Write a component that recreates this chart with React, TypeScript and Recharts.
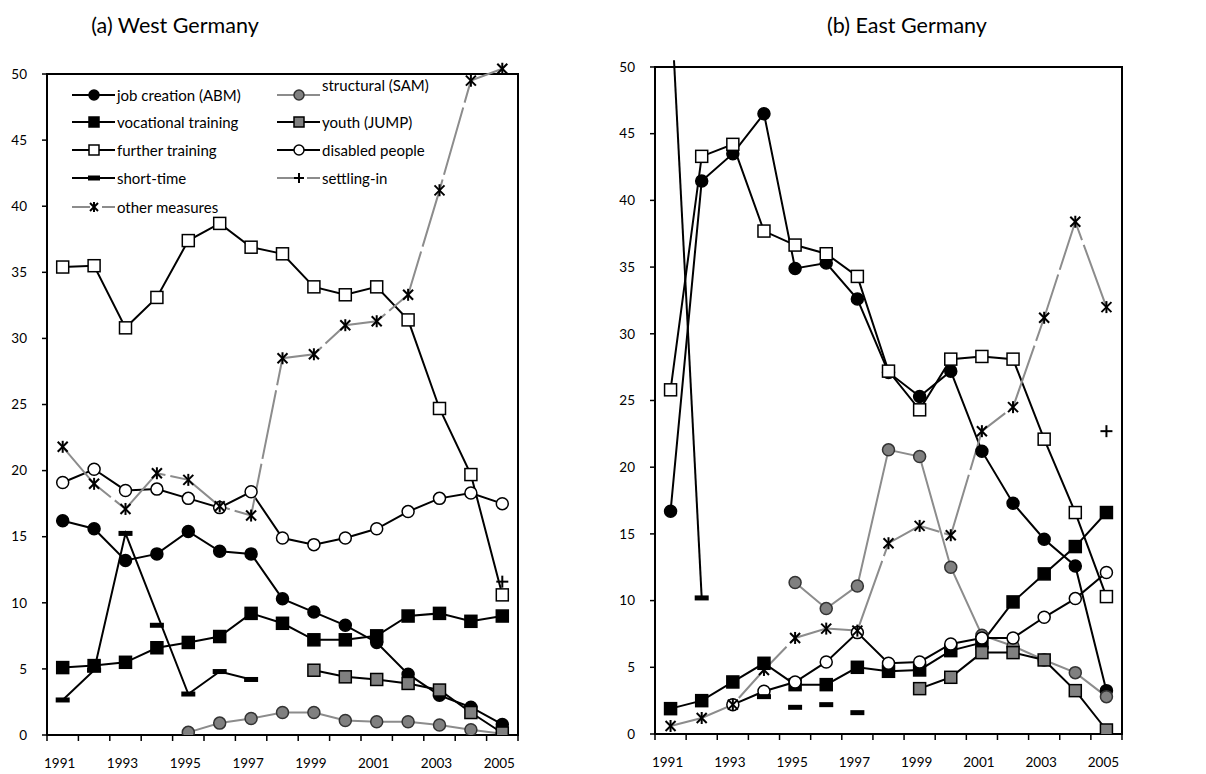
import { LineChart, Line, XAxis, YAxis, ReferenceArea } from 'recharts'

// years on the category axis
const years = [1991, 1992, 1993, 1994, 1995, 1996, 1997, 1998, 1999, 2000, 2001, 2002, 2003, 2004, 2005]
const labelYears = [1991, 1993, 1995, 1997, 1999, 2001, 2003, 2005]
const yTicks = [0, 5, 10, 15, 20, 25, 30, 35, 40, 45, 50]

// (a) West Germany
const jobCreationW = [16.2, 15.6, 13.2, 13.7, 15.4, 13.9, 13.7, 10.3, 9.3, 8.3, 7.0, 4.6, 3.0, 2.1, 0.8]
const structuralW = [null, null, null, null, 0.2, 0.9, 1.25, 1.7, 1.7, 1.1, 1.0, 1.0, 0.75, 0.4, 0.1]
const vocationalW = [5.1, 5.25, 5.5, 6.6, 7.0, 7.45, 9.2, 8.45, 7.2, 7.2, 7.5, 9.0, 9.2, 8.6, 9.0]
const youthW = [null, null, null, null, null, null, null, null, 4.9, 4.4, 4.2, 3.9, 3.4, 1.7, 0.15]
const furtherW = [35.4, 35.5, 30.8, 33.1, 37.4, 38.7, 36.9, 36.4, 33.9, 33.3, 33.9, 31.4, 24.7, 19.7, 10.6]
const disabledW = [19.1, 20.1, 18.5, 18.6, 17.9, 17.2, 18.4, 14.9, 14.4, 14.9, 15.6, 16.9, 17.9, 18.3, 17.5]
const shortTimeW = [2.65, 4.9, 15.25, null, 3.1, 4.8, 4.2, null, null, null, null, null, null, null, null]
const shortTimeExtraW = [null, null, null, 8.3, null, null, null, null, null, null, null, null, null, null, null]
const settlingW = [null, null, null, null, null, null, null, null, null, null, null, null, null, null, 11.6]
const otherW = [21.8, 19.0, 17.1, 19.8, 19.3, 17.3, 16.6, 28.5, 28.8, 31.0, 31.3, 33.3, 41.2, 49.5, 50.4]

// (b) East Germany
const jobCreationE = [16.7, 41.45, 43.5, 46.5, 34.9, 35.3, 32.6, 27.1, 25.3, 27.2, 21.2, 17.3, 14.6, 12.6, 3.25]
const structuralE = [null, null, null, null, 11.35, 9.4, 11.1, 21.3, 20.8, 12.5, 7.4, 6.6, 5.55, 4.6, 2.8]
const vocationalE = [1.9, 2.5, 3.9, 5.3, 3.7, 3.7, 5.0, 4.7, 4.8, 6.25, 6.85, 9.9, 12.0, 14.05, 16.6]
const youthE = [null, null, null, null, null, null, null, null, 3.4, 4.25, 6.1, 6.1, 5.55, 3.25, 0.3]
const furtherE = [25.8, 43.3, 44.2, 37.7, 36.65, 36.0, 34.3, 27.2, 24.3, 28.1, 28.3, 28.1, 22.1, 16.6, 10.3]
const disabledE = [null, null, 2.2, 3.2, 3.9, 5.4, 7.6, 5.3, 5.4, 6.75, 7.2, 7.2, 8.75, 10.15, 12.1]
const shortTimeE = [55.5, 10.2, null, null, null, null, null, null, null, null, null, null, null, null, null]
const shortTimeExtraE = [null, null, null, 2.8, 2.0, 2.2, 1.6, null, null, null, null, null, null, null, null]
const settlingE = [null, null, null, null, null, null, null, null, null, null, null, null, null, null, 22.7]
const otherE = [0.6, 1.2, 2.2, 4.8, 7.2, 7.9, 7.75, 14.3, 15.6, 14.9, 22.7, 24.5, 31.2, 38.4, 32.0]

const FONT = 'Lato, "Open Sans", sans-serif'
const GRAY_LINE = '#8c8c8c'
const GRAY_FILL = '#808080'
const DASH = '70 5'

type Shape = 'circle' | 'square' | 'dash' | 'plus' | 'star'

interface SeriesDef {
  key: string
  label?: string
  shape: Shape
  fill: string
  stroke: string
  dash?: string
  connect?: boolean
}

const seriesDefs: SeriesDef[] = [
  { key: 'job', label: 'job creation (ABM)', shape: 'circle', fill: '#000', stroke: '#000' },
  { key: 'structural', label: 'structural (SAM)', shape: 'circle', fill: GRAY_FILL, stroke: GRAY_LINE },
  { key: 'vocational', label: 'vocational training', shape: 'square', fill: '#000', stroke: '#000' },
  { key: 'youth', label: 'youth (JUMP)', shape: 'square', fill: GRAY_FILL, stroke: '#000' },
  { key: 'further', label: 'further training', shape: 'square', fill: '#fff', stroke: '#000' },
  { key: 'disabled', label: 'disabled people', shape: 'circle', fill: '#fff', stroke: '#000' },
  { key: 'shortTime', label: 'short-time', shape: 'dash', fill: '#000', stroke: '#000', connect: true },
  { key: 'shortTimeExtra', shape: 'dash', fill: '#000', stroke: 'none' },
  { key: 'settling', label: 'settling-in', shape: 'plus', fill: '#000', stroke: GRAY_LINE, dash: DASH },
  { key: 'other', label: 'other measures', shape: 'star', fill: '#000', stroke: GRAY_LINE, dash: DASH },
]

const buildRows = (s: Record<string, (number | null)[]>) =>
  years.map((year, i) => {
    const row: Record<string, number | null> = { year }
    Object.keys(s).forEach((k) => (row[k] = s[k][i]))
    return row
  })

const westData = buildRows({
  job: jobCreationW, structural: structuralW, vocational: vocationalW, youth: youthW, further: furtherW,
  disabled: disabledW, shortTime: shortTimeW, shortTimeExtra: shortTimeExtraW, settling: settlingW, other: otherW,
})
const eastData = buildRows({
  job: jobCreationE, structural: structuralE, vocational: vocationalE, youth: youthE, further: furtherE,
  disabled: disabledE, shortTime: shortTimeE, shortTimeExtra: shortTimeExtraE, settling: settlingE, other: otherE,
})

function Marker({ shape, x, y, fill, s = 6 }: { shape: Shape; x: number; y: number; fill: string; s?: number }) {
  switch (shape) {
    case 'circle':
      return <circle cx={x} cy={y} r={s} fill={fill} stroke={fill === GRAY_FILL ? '#333' : '#000'} strokeWidth={1.5} />
    case 'square':
      return <rect x={x - s} y={y - s} width={2 * s} height={2 * s} fill={fill} stroke="#000" strokeWidth={1.5} />
    case 'dash':
      return <rect x={x - s - 1} y={y - 2.5} width={2 * s + 2} height={5} fill="#000" />
    case 'plus':
      return (
        <g stroke="#000" strokeWidth={2}>
          <line x1={x - s} x2={x + s} y1={y} y2={y} />
          <line x1={x} x2={x} y1={y - s} y2={y + s} />
        </g>
      )
    case 'star':
      return (
        <g stroke="#000" strokeWidth={2}>
          <line x1={x - s + 1} x2={x + s - 1} y1={y - s + 1} y2={y + s - 1} />
          <line x1={x - s + 1} x2={x + s - 1} y1={y + s - 1} y2={y - s + 1} />
          <line x1={x} x2={x} y1={y - s} y2={y + s} />
        </g>
      )
  }
  return null
}

const dotFor = (def: SeriesDef) => (p: any) => {
  if (p.cx == null || p.cy == null || p.value == null) return <g key={p.index} />
  return (
    <g key={p.index}>
      <Marker shape={def.shape} x={p.cx} y={p.cy} fill={def.fill} />
    </g>
  )
}

// ticks at category borders, labels at every other year
const xTicks = [...years.map((y) => y - 0.5), 2005.5, ...labelYears].sort((a, b) => a - b)

const XTick = (props: any) => {
  const { x, y, payload } = props
  const v = payload.value
  if (v % 1 !== 0) return <line x1={x} x2={x} y1={y} y2={y + 6} stroke="#000" strokeWidth={1.5} />
  if (labelYears.includes(v))
    return (
      <text x={x - 3} y={y + 28} textAnchor="middle" dominantBaseline="central" fontSize={13.5} fontFamily={FONT} fill="#000">
        {v}
      </text>
    )
  return <g />
}

interface PanelProps {
  data: Record<string, number | null>[]
  width: number
  yMax: number
  marginTop: number
  marginRight: number
  yAxisWidth: number
  xAxisHeight: number
}

function Panel({ data, width, yMax, marginTop, marginRight, yAxisWidth, xAxisHeight }: PanelProps) {
  return (
    <LineChart width={width} height={774} data={data} margin={{ top: marginTop, right: marginRight, bottom: 0, left: 0 }}>
      <ReferenceArea x1={1990.5} x2={2005.5} y1={0} y2={50} fill="none" stroke="#000" strokeWidth={2} />
      <XAxis
        dataKey="year"
        type="number"
        domain={[1990.5, 2005.5]}
        ticks={xTicks}
        interval={0}
        tick={<XTick />}
        tickLine={false}
        tickSize={0}
        tickMargin={0}
        axisLine={false}
        height={xAxisHeight}
      />
      <YAxis
        type="number"
        domain={[0, yMax]}
        allowDataOverflow
        ticks={yTicks}
        interval={0}
        width={yAxisWidth}
        axisLine={false}
        tickSize={5}
        tickMargin={15}
        tickLine={{ stroke: '#000', strokeWidth: 1.5 }}
        tick={{ fill: '#000', fontSize: 13.5, fontFamily: FONT }}
      />
      {seriesDefs.map((def) => (
        <Line
          key={def.key}
          dataKey={def.key}
          type="linear"
          stroke={def.stroke}
          strokeWidth={2}
          strokeDasharray={def.dash}
          connectNulls={!!def.connect}
          dot={dotFor(def)}
          activeDot={false}
          isAnimationActive={false}
        />
      ))}
    </LineChart>
  )
}

const legendCols = [
  { lineX: 72, textX: 117, items: ['job', 'vocational', 'further', 'shortTime', 'other'] },
  { lineX: 277, textX: 322, items: ['structural', 'youth', 'disabled', 'settling'] },
]
const legendRows = [95, 122, 150, 178, 207]

function LegendBox() {
  return (
    <svg width={600} height={230} style={{ position: 'absolute', left: 0, top: 0 }}>
      {legendCols.map((col) =>
        col.items.map((key, r) => {
          const def = seriesDefs.find((d) => d.key === key)!
          const y = legendRows[r]
          const mx = col.lineX + 22
          const textY = key === 'structural' ? y - 10 : y
          return (
            <g key={key}>
              {def.dash ? (
                <g stroke={def.stroke} strokeWidth={2}>
                  <line x1={col.lineX} x2={mx - 4} y1={y} y2={y} />
                  <line x1={mx + 8} x2={col.lineX + 43} y1={y} y2={y} />
                </g>
              ) : (
                <line x1={col.lineX} x2={col.lineX + 43} y1={y} y2={y} stroke={def.stroke} strokeWidth={2} />
              )}
              <Marker shape={def.shape} x={mx} y={y} fill={def.fill} s={5} />
              <text x={col.textX} y={textY} dominantBaseline="central" fontSize={15} fontFamily={FONT} fill="#000">
                {def.label}
              </text>
            </g>
          )
        })
      )}
    </svg>
  )
}

const titleStyle = {
  position: 'absolute' as const,
  top: 11,
  width: 300,
  textAlign: 'center' as const,
  fontFamily: FONT,
  fontSize: 21.5,
  color: '#000',
  lineHeight: '28px',
}

export default function App() {
  return (
    <div style={{ position: 'absolute', left: 0, top: 0, width: 1206, height: 774, background: '#fff' }}>
      <div style={{ ...titleStyle, left: 175 - 150 }}>(a) West Germany</div>
      <div style={{ ...titleStyle, left: 907 - 150 }}>(b) East Germany</div>
      <div style={{ position: 'absolute', left: 0, top: 0 }}>
        <Panel data={westData} width={600} yMax={51} marginTop={60.8} marginRight={82} yAxisWidth={47} xAxisHeight={39} />
      </div>
      <div style={{ position: 'absolute', left: 600, top: 0 }}>
        <Panel data={eastData} width={606} yMax={50.5} marginTop={60.3} marginRight={84} yAxisWidth={55} xAxisHeight={40} />
      </div>
      <LegendBox />
    </div>
  )
}
